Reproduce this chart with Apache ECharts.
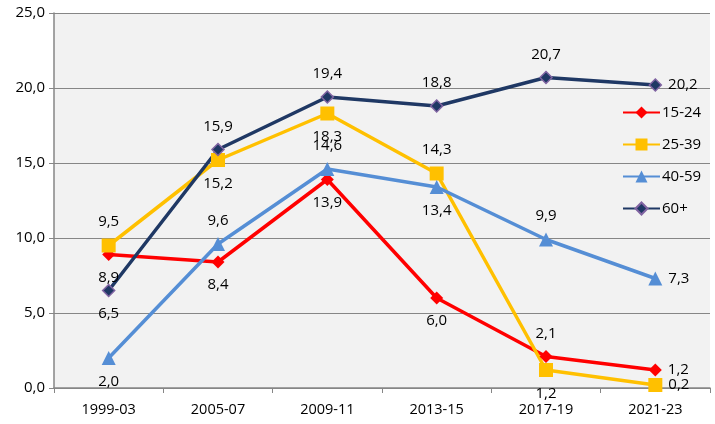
<!DOCTYPE html>
<html lang="en">
<head>
    <meta charset="UTF-8">
    <title>Chart</title>
    <script src="https://cdn.jsdelivr.net/npm/echarts@6/dist/echarts.min.js"></script>
    <style>
        body { margin: 0; background: #fff; }
        .demo { width: 715px; height: 424px; }
    </style>
</head>
<body>
    <div class="demo"></div>
    <script>
        var categories = ['1999-03', '2005-07', '2009-11', '2013-15', '2017-19', '2021-23']
        var names = ['15-24', '25-39', '40-59', '60+']
        var s1524 = [8.9, 8.4, 13.9, 6.0, 2.1, 1.2]
        var s2539 = [9.5, 15.2, 18.3, 14.3, 1.2, 0.2]
        var s4059 = [2.0, 9.6, 14.6, 13.4, 9.9, 7.3]
        var s60 = [6.5, 15.9, 19.4, 18.8, 20.7, 20.2]
        var yTicks = [0, 5, 10, 15, 20, 25]

        // where each data label sits relative to its point
        var pos1524 = ['bottom', 'bottom', 'bottom', 'bottom', 'top', 'right']
        var pos2539 = ['top', 'bottom', 'bottom', 'top', 'bottom', 'right']
        var pos4059 = ['bottom', 'top', 'top', 'bottom', 'top', 'right']
        var pos60 = ['bottom', 'top', 'top', 'top', 'top', 'right']

        var fmt = function (v) { return v.toFixed(1).replace('.', ',') }

        function mkData(vals, posList) {
            return vals.map(function (v, i) {
                return {
                    value: v,
                    label: { position: posList[i], distance: posList[i] === 'right' ? 6 : 9 }
                }
            })
        }

        function mkSeries(name, vals, posList, color, symbol, size, border) {
            return {
                name: name,
                type: 'line',
                data: mkData(vals, posList),
                symbol: symbol,
                symbolSize: size,
                lineStyle: { color: color, width: 3.5 },
                itemStyle: { color: color, borderColor: border || color, borderWidth: border ? 1.5 : 0 },
                label: {
                    show: true,
                    color: '#000',
                    fontSize: 15,
                    fontFamily: 'Open Sans',
                    formatter: function (p) { return fmt(p.value) }
                },
                emphasis: { disabled: true },
                animation: false
            }
        }

        var div = echarts.init(document.querySelector('.demo'))
        var option = {
            backgroundColor: '#fff',
            grid: {
                left: 54, right: 5, top: 13, bottom: 36,
                show: true, backgroundColor: '#f2f2f2', borderWidth: 0
            },
            legend: {
                orient: 'vertical',
                left: 617,
                top: 100,
                itemWidth: 37,
                itemHeight: 15,
                itemGap: 17,
                textStyle: { fontSize: 15, fontFamily: 'Open Sans', color: '#000', padding: [0, 0, 0, -3] },
                data: names
            },
            xAxis: {
                type: 'category',
                data: categories,
                boundaryGap: true,
                axisLine: { lineStyle: { color: '#868686', width: 1.5 } },
                axisTick: { show: true, length: 5, lineStyle: { color: '#868686' } },
                axisLabel: { color: '#000', fontSize: 14.5, fontFamily: 'Open Sans', margin: 14 },
                splitLine: { show: false }
            },
            yAxis: {
                type: 'value',
                min: yTicks[0],
                max: yTicks[yTicks.length - 1],
                interval: 5,
                axisLine: { show: true, lineStyle: { color: '#868686', width: 1.5 } },
                axisTick: { show: true, length: 5, lineStyle: { color: '#868686' } },
                axisLabel: { color: '#000', fontSize: 15, fontFamily: 'Open Sans', margin: 9, formatter: fmt },
                splitLine: { lineStyle: { color: '#868686', width: 1.2 } }
            },
            series: [
                mkSeries(names[0], s1524, pos1524, '#ff0000', 'diamond', 13),
                mkSeries(names[1], s2539, pos2539, '#ffc000', 'rect', 14),
                mkSeries(names[2], s4059, pos4059, '#558ed5', 'triangle', 14),
                mkSeries(names[3], s60, pos60, '#1f3864', 'diamond', 12, '#8064a2')
            ]
        }
        div.setOption(option)
    </script>
</body>
</html>
